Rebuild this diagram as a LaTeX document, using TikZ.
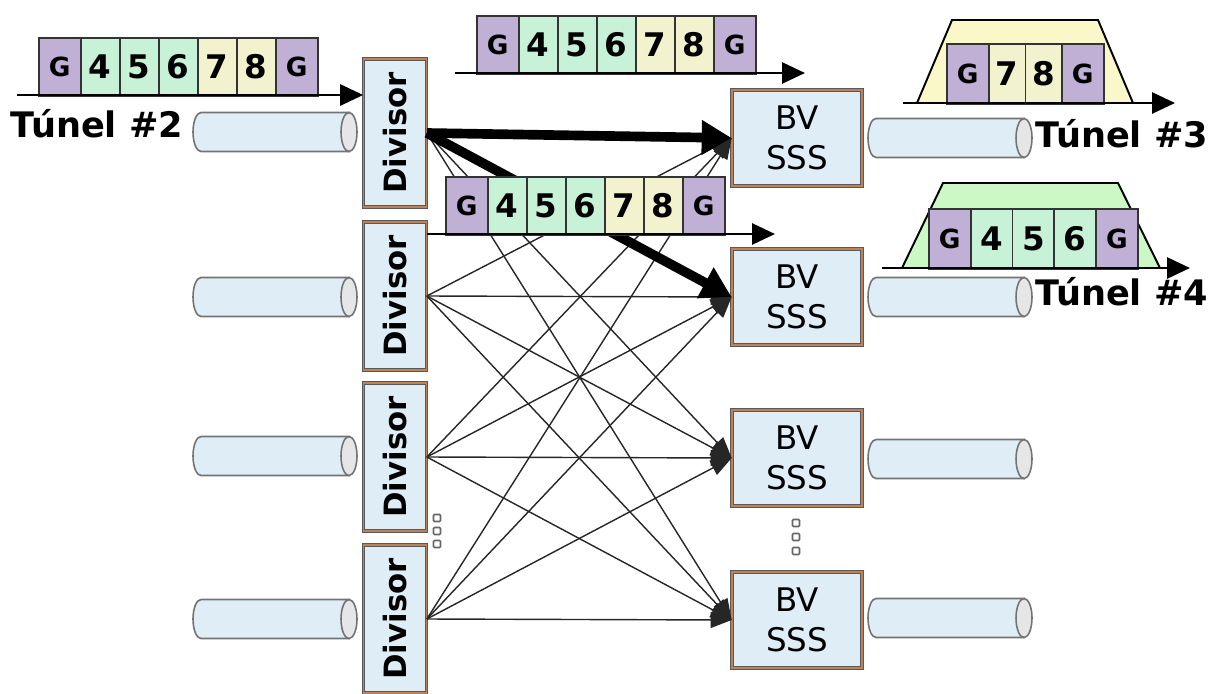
\documentclass[tikz,border=0pt]{standalone}
\usepackage{fontspec}
\setmainfont{DejaVu Sans}
\usetikzlibrary{arrows.meta}

\definecolor{gpurple}{RGB}{192,176,214}
\definecolor{ngreen}{RGB}{200,242,216}
\definecolor{ncream}{RGB}{242,242,206}
\definecolor{trapyellow}{RGB}{250,247,200}
\definecolor{trapgreen}{RGB}{204,248,198}
\definecolor{boxblue}{RGB}{222,237,246}
\definecolor{boxedge}{RGB}{190,130,86}
\definecolor{tubeend}{RGB}{230,230,230}

\begin{document}
\begin{tikzpicture}[x=0.02cm,y=-0.02cm,
    divbox/.style={rectangle, draw=black!65, double=boxedge, double distance=1.1pt, fill=boxblue,
        minimum width=1.26cm, minimum height=2.96cm, inner sep=0pt,
        font=\fontsize{17.5}{21}\selectfont\bfseries},
    sssbox/.style={rectangle, draw=black!65, double=boxedge, double distance=1.1pt, fill=boxblue,
        minimum width=2.6cm, minimum height=1.92cm, inner sep=0pt, align=center,
        font=\fontsize{18.5}{22.7}\selectfont},
    cell/.style={rectangle, draw=black!80, line width=0.9pt, minimum height=1.17cm, inner sep=0pt, anchor=north west},
    gcell/.style={cell, fill=gpurple, font=\fontsize{15}{18}\selectfont\bfseries},
    ncell/.style={cell, fill=ngreen, font=\fontsize{18.5}{22}\selectfont\bfseries},
    ycell/.style={cell, fill=ncream, font=\fontsize{18.5}{22}\selectfont\bfseries},
    axis/.style={line width=1.6pt, -{Triangle[length=0.46cm,width=0.42cm]}},
    fan/.style={black!85, line width=0.8pt, -{Triangle[length=0.42cm,width=0.32cm]}},
    heavy/.style={line width=5.5pt, -{Triangle[length=0.6cm,width=0.66cm]}},
    tunnel/.style={font=\fontsize{20}{24}\selectfont\bfseries},
    tube/.style={draw=black!55, line width=0.9pt, fill=boxblue},
    dotbox/.style={draw=black!60, line width=0.9pt, fill=white, rounded corners=0.6pt}]

    \useasboundingbox (0,0) rectangle (1212,693);

    % tubes
    \foreach \a/\b/\y in {193/349/132, 193/349/297, 193/349/456, 193/349/619,
                          868/1024/138, 868/1024/297, 868/1024/459, 868/1024/618} {
        \draw[tube] (\b,\y-19.5) -- (\a+8,\y-19.5)
            arc[start angle=90, end angle=270, x radius=0.16cm, y radius=0.39cm] -- (\b,\y+19.5) -- cycle;
        \draw[tube, fill=tubeend] (\b,\y) ellipse [x radius=0.16cm, y radius=0.39cm];
    }

    % splitters and selective switches
    \foreach \i/\y in {1/133, 2/296, 3/457, 4/619}
        \node[divbox] (d\i) at (395,\y) {\rotatebox{90}{Divisor}};
    \foreach \j/\y in {1/138, 2/297, 3/458, 4/620}
        \node[sssbox] (v\j) at (797,\y) {BV\\SSS};

    % full mesh
    \foreach \i in {1,...,4}
        \foreach \j in {1,...,4}
            \draw[fan] (d\i.east) -- (v\j.west);
    \draw[heavy] (d1.east) -- (v1.west);
    \draw[heavy] (d1.east) -- (v2.west);

    % packets on the way
    \foreach \sx/\sy/\n in {38/37/a, 476/15/b, 445/176/c}
        \foreach \l/\o/\w/\s [count=\i] in {G/0/42/gcell, 4/42/39/ncell, 5/81/39/ncell, 6/120/39/ncell,
                                            7/159/39/ycell, 8/198/39/ycell, G/237/42/gcell}
            \node[\s, minimum width=\w*0.02cm] (\n\i) at (\sx+\o,\sy) {\l};

    \coordinate (a0) at (17,95);
    \draw[axis] (a0) -- (a0 -| d1.west); % into the splitter
    \coordinate (b0) at (455,73);
    \coordinate (b9) at (805,73);
    \draw[axis] (b0) -- (b9);
    \coordinate (c9) at (775,234);
    \draw[axis] (c9 -| d2.east) -- (c9);

    % Tunnel #3 spectrum
    \draw[line width=1.1pt, fill=trapyellow] (917,103) -- (952,20) -- (1098,20) -- (1133,103) -- cycle;
    \foreach \l/\o/\w/\s [count=\i] in {G/0/42/gcell, 7/42/36.5/ycell, 8/78.5/36.5/ycell, G/115/42/gcell}
        \node[\s, minimum width=\w*0.02cm, minimum height=1.2cm] (e\i) at (946+\o,43) {\l};
    \coordinate (e0) at (903,103);
    \coordinate (e9) at (1175,103);
    \draw[axis] (e0) -- (e9);

    % Tunnel #4 spectrum
    \draw[line width=1.1pt, fill=trapgreen] (902,268) -- (943,183) -- (1118,183) -- (1160,268) -- cycle;
    \foreach \l/\o/\w/\s [count=\i] in {G/0/42/gcell, 4/42/41.7/ncell, 5/83.7/41.7/ncell,
                                        6/125.4/41.7/ncell, G/167.1/42/gcell}
        \node[\s, minimum width=\w*0.02cm, minimum height=1.2cm] (f\i) at (928+\o,208) {\l};
    \coordinate (f0) at (882,268);
    \coordinate (f9) at (1190,268);
    \draw[axis] (f0) -- (f9);

    \node[tunnel] (t2) at (97,124) {Túnel \#2};
    \node[tunnel] (t3) at (1122,134) {Túnel \#3};
    \node[tunnel] (t4) at (1122,292) {Túnel \#4};

    % more ports
    \foreach \y in {518,531,544}
        \draw[dotbox] (433.5,\y-3.5) rectangle (440.5,\y+3.5);
    \foreach \y in {523,537,551}
        \draw[dotbox] (792.5,\y-3.5) rectangle (799.5,\y+3.5);
\end{tikzpicture}
\end{document}
